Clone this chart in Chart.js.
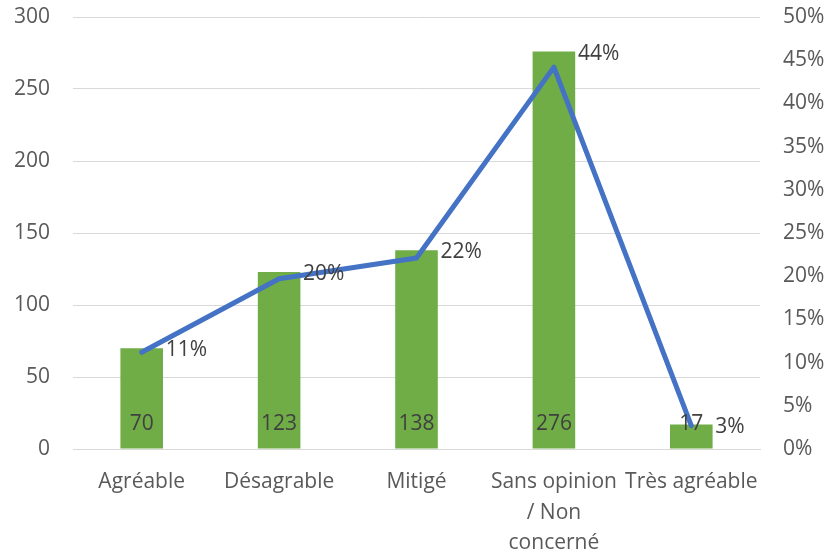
<!DOCTYPE html>
<html>
<head>
<meta charset="utf-8">
<script src="https://cdn.jsdelivr.net/npm/chart.js@4"></script>
<style>
  html, body { margin: 0; padding: 0; background: #fff; }
  #wrap { position: relative; width: 824px; height: 552px; }
</style>
</head>
<body>
<div id="wrap"><canvas id="c" role="img" aria-label="Répartition des réponses"></canvas></div>
<script>
const categories = [['Agréable'], ['Désagrable'], ['Mitigé'], ['Sans opinion', '/ Non', 'concerné'], ['Très agréable']];
const counts = [70, 123, 138, 276, 17];
const shares = [0.112, 0.197, 0.221, 0.442, 0.027];
const shareLabels = ['11%', '20%', '22%', '44%', '3%'];

const FONT = { family: "'Open Sans', 'Noto Sans', sans-serif", size: 21 };
const TICK = '#595959';
const GRID = '#d9d9d9';

// little home-made data label plugin (no datalabels plugin offline)
const labelPlugin = {
  id: 'valueLabels',
  afterDatasetsDraw(chart) {
    const ctx = chart.ctx;
    ctx.save();
    ctx.font = `${FONT.size}px ${FONT.family}`;
    ctx.fillStyle = '#404040';
    ctx.textBaseline = 'middle';
    const yBase = chart.scales.y.getPixelForValue(0);
    chart.getDatasetMeta(0).data.forEach((bar, i) => {
      ctx.textAlign = 'center';
      ctx.fillText(String(counts[i]), bar.x, yBase - 25);
    });
    chart.getDatasetMeta(1).data.forEach((pt, i) => {
      ctx.textAlign = 'left';
      ctx.fillText(shareLabels[i], pt.x + 24, pt.y + 2);
    });
    ctx.restore();
  }
};

const noPad = s => { s.paddingTop = 0; s.paddingBottom = 0; };

new Chart(document.getElementById('c'), {
  data: {
    labels: categories,
    datasets: [
      { type: 'line', label: 'Part', data: shares, yAxisID: 'y1', borderColor: '#4472C4', borderWidth: 5,
        pointRadius: 0, tension: 0, borderCapStyle: 'round', borderJoinStyle: 'round', order: 0 },
      { type: 'bar', label: 'Nombre', data: counts, yAxisID: 'y', backgroundColor: '#70AD47',
        barPercentage: 0.31, categoryPercentage: 1, order: 1 },
    ],
  },
  options: {
    responsive: true,
    maintainAspectRatio: false,
    animation: false,
    layout: { padding: { top: 17, left: 0, right: 0, bottom: 0 } },
    plugins: { legend: { display: false }, tooltip: { enabled: false } },
    scales: {
      x: {
        grid: { display: false, drawTicks: false },
        border: { color: GRID },
        ticks: { color: TICK, font: { ...FONT, lineHeight: 1.45 }, padding: 18, maxRotation: 0, autoSkip: false },
        afterFit(s) { s.height = 103; s.paddingLeft = 0; s.paddingRight = 0; },
      },
      y: {
        position: 'left', min: 0, max: 300,
        grid: { color: GRID, drawTicks: false },
        border: { display: false },
        ticks: { stepSize: 50, color: TICK, font: FONT, padding: 23 },
        afterFit(s) { s.width = 73; noPad(s); },
      },
      y1: {
        position: 'right', min: 0, max: 0.5,
        grid: { display: false, drawTicks: false },
        border: { display: false },
        ticks: { stepSize: 0.05, color: TICK, font: FONT, padding: 23, callback: v => Math.round(v * 100) + '%' },
        afterFit(s) { s.width = 64; noPad(s); },
      },
    },
  },
  plugins: [labelPlugin],
});
</script>
</body>
</html>
